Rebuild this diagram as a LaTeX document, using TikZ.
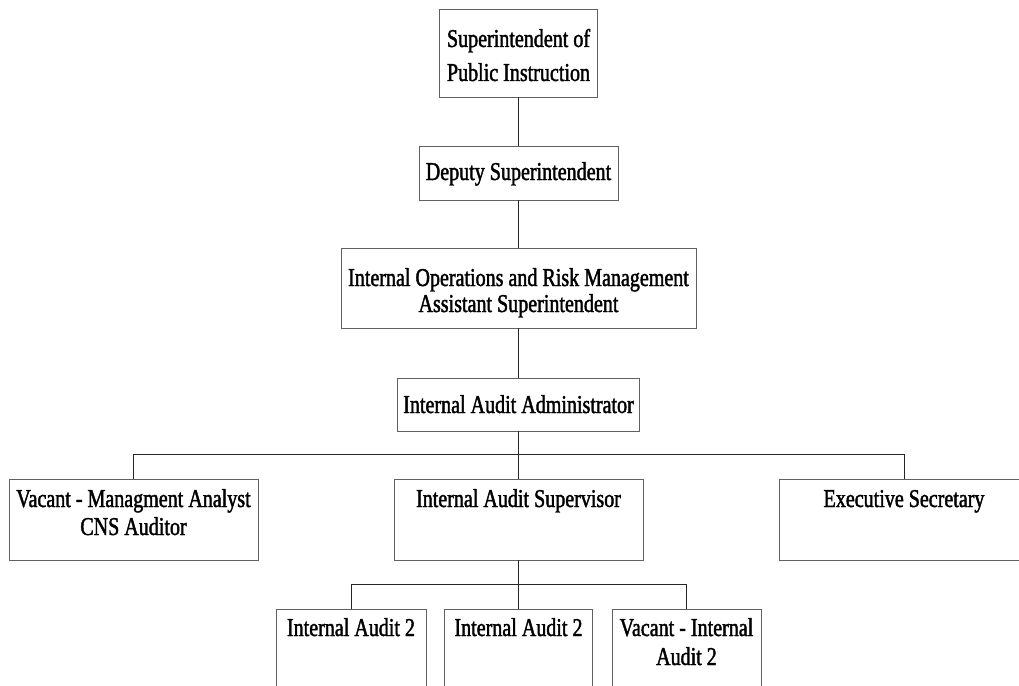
\documentclass[tikz,border=0pt]{standalone}
\usepackage{fontspec}
\setmainfont{Liberation Serif}[FakeStretch=0.78,FakeBold=1.6]
\begin{document}
\begin{tikzpicture}[x=1pt,y=-1pt,
  box/.style={draw=black!62, line width=0.9pt, fill=white, inner sep=0pt},
  wire/.style={draw=black!85, line width=0.9pt},
  lbl/.style={anchor=base, align=center, inner sep=0pt,
              font=\fontsize{25.7}{#1}\selectfont},
  lbl/.default=28]
\useasboundingbox (0,0) rectangle (1019,685);
\clip (0,0) rectangle (1019,685);

% boxes of the chart
\node[box, minimum width=158, minimum height=88] (sup)  at (518.5,53)    {};
\node[box, minimum width=199, minimum height=54] (dep)  at (518.5,173)   {};
\node[box, minimum width=355, minimum height=80] (iorm) at (518.5,288)   {};
\node[box, minimum width=242, minimum height=53] (adm)  at (518.5,404.5) {};
\node[box, minimum width=249, minimum height=81] (vac)  at (133.5,519.5) {};
\node[box, minimum width=249, minimum height=81] (supv) at (518.5,519.5) {};
\node[box, minimum width=250, minimum height=81] (exec) at (904,519.5)   {};
\node[box, minimum width=150, minimum height=110] (ia1) at (351,664)     {};
\node[box, minimum width=148, minimum height=110] (ia2) at (518.5,664)   {};
\node[box, minimum width=149, minimum height=110] (ia3) at (686.5,664)   {};

% titles (anchored at the baseline of their last line)
\node[lbl=34] (tsup)  at (518.5,81)  {Superintendent of\\Public Instruction};
\node[lbl]    (tdep)  at (518.5,180) {Deputy Superintendent};
\node[lbl=26] (tiorm) at (518.5,312) {Internal Operations and Risk Management\\Assistant Superintendent};
\node[lbl]    (tadm)  at (518.5,413) {Internal Audit Administrator};
\node[lbl]    (tvac)  at (133.5,535) {Vacant - Managment Analyst\\CNS Auditor};
\node[lbl]    (tsupv) at (518.5,507) {Internal Audit Supervisor};
\node[lbl]    (texec) at (904,507)   {Executive Secretary};
\node[lbl=29] (tia1)  at (351,636)   {Internal Audit 2};
\node[lbl=29] (tia2)  at (518.5,636) {Internal Audit 2};
\node[lbl=29] (tia3)  at (686.5,665) {Vacant - Internal\\Audit 2};

% reporting lines
\draw[wire] (sup.south)  -- (dep.north);
\draw[wire] (dep.south)  -- (iorm.north);
\draw[wire] (iorm.south) -- (adm.north);
\draw[wire] (adm.south)  -- (supv.north);
\draw[wire] (vac.north) -- ++(0,-24) -| (exec.north);
\draw[wire] (supv.south) -- (ia2.north);
\draw[wire] (ia1.north) -- ++(0,-24) -| (ia3.north);
\end{tikzpicture}
\end{document}
